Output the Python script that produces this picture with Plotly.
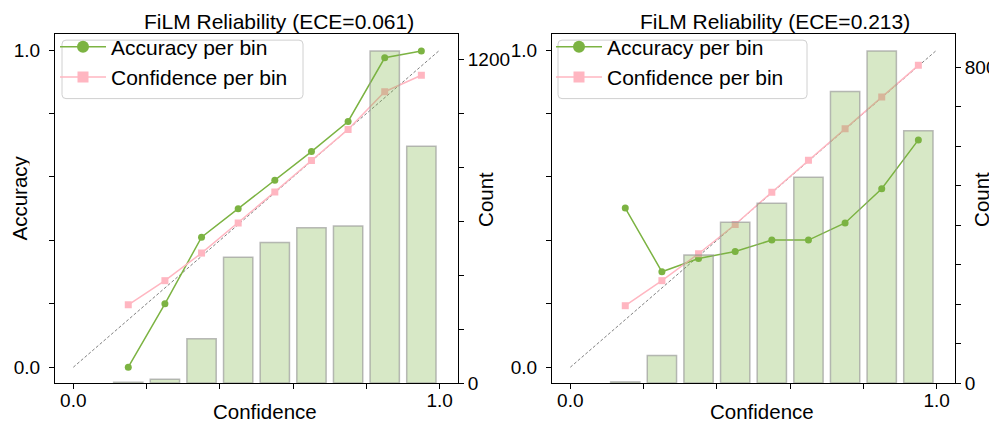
import plotly.graph_objects as go

# bin centres shared by both panels
bin_centers = [0.15, 0.25, 0.35, 0.45, 0.55, 0.65, 0.75, 0.85, 0.95]

# left panel (ECE=0.061)
acc_left = [0.00, 0.20, 0.41, 0.50, 0.59, 0.68, 0.775, 0.976, 0.997]
conf_left = [0.197, 0.273, 0.36, 0.455, 0.553, 0.652, 0.75, 0.869, 0.921]
count_left = [3, 14, 164, 466, 521, 575, 582, 1230, 877]

# right panel (ECE=0.213)
acc_right = [0.502, 0.301, 0.343, 0.365, 0.401, 0.401, 0.455, 0.563, 0.717]
conf_right = [0.194, 0.273, 0.358, 0.45, 0.552, 0.653, 0.752, 0.852, 0.952]
count_right = [3, 70, 324, 407, 455, 521, 738, 841, 639]

titles = ["FiLM Reliability (ECE=0.061)", "FiLM Reliability (ECE=0.213)"]

W, H = 997, 427
FONT = "Liberation Sans, Arial, sans-serif"
GREEN = "#7cb342"
PINK = "#ffb6c1"
BAR_FILL = "rgba(124,179,66,0.3)"
BAR_EDGE = "rgba(150,150,150,0.65)"

fig = go.Figure()

panels = [
    dict(acc=acc_left, conf=conf_left, cnt=count_left, x="x", y="y", y2="y2",
         legend="legend"),
    dict(acc=acc_right, conf=conf_right, cnt=count_right, x="x2", y="y3", y2="y4",
         legend="legend2"),
]

for p in panels:
    fig.add_trace(go.Scatter(x=[0, 1], y=[0, 1], mode="lines", showlegend=False,
                             line=dict(color="gray", width=1, dash="3px,2px"),
                             xaxis=p["x"], yaxis=p["y"]))
    fig.add_trace(go.Scatter(x=bin_centers, y=p["acc"], mode="lines+markers",
                             showlegend=False,
                             line=dict(color=GREEN, width=1.5),
                             marker=dict(color=GREEN, size=7, symbol="circle"),
                             xaxis=p["x"], yaxis=p["y"]))
    fig.add_trace(go.Scatter(x=bin_centers, y=p["conf"], mode="lines+markers",
                             showlegend=False,
                             line=dict(color=PINK, width=1.5),
                             marker=dict(color=PINK, size=7, symbol="square"),
                             xaxis=p["x"], yaxis=p["y"]))
    fig.add_trace(go.Bar(x=bin_centers, y=p["cnt"], width=0.08, showlegend=False,
                         marker=dict(color=BAR_FILL, line=dict(color=BAR_EDGE, width=1.5)),
                         xaxis=p["x"], yaxis=p["y2"]))
    # legend entries with larger markers (like matplotlib's legend handles)
    fig.add_trace(go.Scatter(x=[None], y=[None], mode="lines+markers",
                             name="Accuracy per bin", legend=p["legend"],
                             line=dict(color=GREEN, width=1.5),
                             marker=dict(color=GREEN, size=12, symbol="circle"),
                             xaxis=p["x"], yaxis=p["y"]))
    fig.add_trace(go.Scatter(x=[None], y=[None], mode="lines+markers",
                             name="Confidence per bin", legend=p["legend"],
                             line=dict(color=PINK, width=1.5),
                             marker=dict(color=PINK, size=11, symbol="square"),
                             xaxis=p["x"], yaxis=p["y"]))

tick_font = dict(family=FONT, size=19, color="black")
axis_common = dict(showgrid=False, zeroline=False, showline=True, linecolor="black",
                   linewidth=1, ticks="outside", ticklen=5, tickcolor="black",
                   tickfont=tick_font)

unit_ticks = [0, 0.2, 0.4, 0.6, 0.8, 1.0]
unit_text = ["0.0", "", "", "", "", "1.0"]

dom_y = [(H - 385) / H, (H - 27) / H]
dom_x1 = [47 / W, 450 / W]
dom_x2 = [544 / W, 947 / W]


def count_ticks(cmax, step):
    vals = list(range(0, cmax + 1, step))
    text = [str(v) if v in (0, cmax) else "" for v in vals]
    return vals, text


cv1, ct1 = count_ticks(1200, 200)
cv2, ct2 = count_ticks(800, 100)

legend_common = dict(xanchor="left", yanchor="top", bgcolor="rgba(0,0,0,0)",
                     borderwidth=0, itemwidth=46,
                     font=dict(family=FONT, size=21, color="black"))

fig.update_layout(
    width=W, height=H,
    margin=dict(l=0, r=0, t=0, b=0),
    paper_bgcolor="white", plot_bgcolor="white",
    font=dict(family=FONT, color="black"),
    barmode="overlay",
    xaxis=dict(domain=dom_x1, range=[-0.05, 1.05], anchor="y", mirror=True,
               ticklabelstandoff=-5,
               tickvals=unit_ticks, ticktext=unit_text, **axis_common),
    yaxis=dict(domain=dom_y, range=[-0.05, 1.05], anchor="x", ticklabelstandoff=5,
               tickvals=unit_ticks, ticktext=unit_text, **axis_common),
    yaxis2=dict(overlaying="y", side="right", anchor="x", range=[0, 1230 * 1.05],
                tickvals=cv1, ticktext=ct1, **axis_common),
    xaxis2=dict(domain=dom_x2, range=[-0.05, 1.05], anchor="y3", mirror=True,
                ticklabelstandoff=-5,
                tickvals=unit_ticks, ticktext=unit_text, **axis_common),
    yaxis3=dict(domain=dom_y, range=[-0.05, 1.05], anchor="x2", ticklabelstandoff=5,
                tickvals=unit_ticks, ticktext=unit_text, **axis_common),
    yaxis4=dict(overlaying="y3", side="right", anchor="x2", range=[0, 841 * 1.05],
                tickvals=cv2, ticktext=ct2, **axis_common),
    legend=dict(x=47 / W, y=1 - 19 / H, **legend_common),
    legend2=dict(x=543 / W, y=1 - 19 / H, **legend_common),
)


def rounded_box(x0, y0, x1, y1, r=4):
    # pixel box (top-left origin) -> rounded path in paper coords
    def px(x):
        return x / W

    def py(y):
        return 1 - y / H

    return (f"M {px(x0 + r)},{py(y0)} L {px(x1 - r)},{py(y0)} "
            f"Q {px(x1)},{py(y0)} {px(x1)},{py(y0 + r)} L {px(x1)},{py(y1 - r)} "
            f"Q {px(x1)},{py(y1)} {px(x1 - r)},{py(y1)} L {px(x0 + r)},{py(y1)} "
            f"Q {px(x0)},{py(y1)} {px(x0)},{py(y1 - r)} L {px(x0)},{py(y0 + r)} "
            f"Q {px(x0)},{py(y0)} {px(x0 + r)},{py(y0)} Z")


shapes = []
for bx0, bx1 in [(54, 295), (550, 799)]:
    shapes.append(dict(type="path", xref="paper", yref="paper", layer="above",
                       path=rounded_box(bx0, 33, bx1, 93),
                       fillcolor="rgba(255,255,255,0.8)",
                       line=dict(color="#d0d0d0", width=1)))
fig.update_layout(shapes=shapes)

ann = []
for cx, t in zip([271, 767], titles):
    ann.append(dict(text=t, x=cx / W, y=1, xref="paper", yref="paper",
                    showarrow=False, xanchor="center", yanchor="top",
                    height=24, valign="middle", borderpad=0,
                    font=dict(family=FONT, size=21)))
for cx in [257, 754]:
    ann.append(dict(text="Confidence", x=cx / W, y=1 - 414 / H, xref="paper", yref="paper",
                    showarrow=False, xanchor="center", yanchor="middle",
                    font=dict(family=FONT, size=20.5)))
for cx in [478, 974]:
    ann.append(dict(text="Count", x=cx / W, y=1 - 197 / H, xref="paper", yref="paper",
                    showarrow=False, xanchor="center", yanchor="middle", textangle=-90,
                    font=dict(family=FONT, size=20.5)))
ann.append(dict(text="Accuracy", x=0, y=1 - 195 / H, xref="paper", yref="paper",
                showarrow=False, xanchor="left", yanchor="middle", textangle=-90,
                height=21, valign="middle", borderpad=0,
                font=dict(family=FONT, size=20.5)))
fig.update_layout(annotations=ann)

fig.write_html("out.html")
